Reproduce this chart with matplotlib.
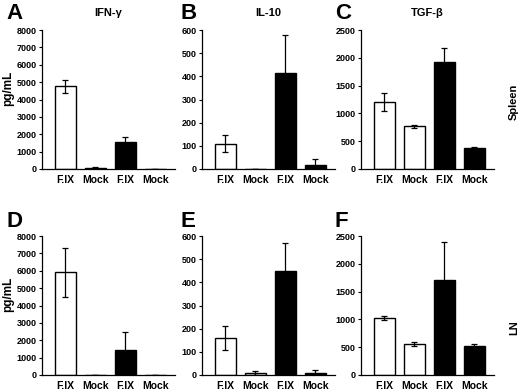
import matplotlib
matplotlib.use('Agg')
import matplotlib.pyplot as plt

plt.rcParams['font.family'] = ['Liberation Sans', 'DejaVu Sans']
plt.rcParams['font.weight'] = 'bold'

# groups along x, same for all panels
groups = ['F.IX', 'Mock', 'F.IX', 'Mock']
fills = ['white', 'white', 'black', 'black']

# panel data (pg/mL): mean, error
panels = ['A', 'B', 'C', 'D', 'E', 'F']
titles = ['IFN-\u03b3', 'IL-10', 'TGF-\u03b2', '', '', '']
ymax = [8000, 600, 2500, 8000, 600, 2500]
ystep = [1000, 100, 500, 1000, 100, 500]

A_val = [4750, 80, 1580, 10]
A_err = [380, 30, 250, 5]
B_val = [110, 0, 415, 18]
B_err = [38, 0, 165, 27]
C_val = [1200, 770, 1930, 370]
C_err = [165, 30, 250, 30]
D_val = [5900, 0, 1450, 10]
D_err = [1400, 0, 1050, 5]
E_val = [160, 8, 450, 10]
E_err = [52, 8, 120, 10]
F_val = [1030, 560, 1700, 530]
F_err = [40, 40, 690, 30]

vals = [A_val, B_val, C_val, D_val, E_val, F_val]
errs = [A_err, B_err, C_err, D_err, E_err, F_err]

fig = plt.figure(figsize=(5.2, 3.9), dpi=100)

lefts = [42, 202, 361]
tops = [30, 236]
letter_x = [6, 180, 335]
letter_y = [3, 211]
W, H = 520., 390.

for k in range(6):
    r, c = k // 3, k % 3
    x0 = lefts[c]
    y0 = tops[r]
    ax = fig.add_axes([x0 / W, 1 - (y0 + 139) / H, 133 / W, 139 / H])
    xs = range(len(groups))
    v = vals[k]
    e = errs[k]
    lo = [min(e[i], v[i]) for i in xs]
    ax.bar(xs, v, width=0.68, color=fills, edgecolor='black', linewidth=1.0)
    ax.errorbar(xs, v, yerr=[lo, e], fmt='none', ecolor='black',
                elinewidth=0.9, capsize=2, capthick=0.9)
    ax.set_xlim(-0.78, 3.65)
    ax.set_ylim(0, ymax[k])
    ax.set_yticks(range(0, ymax[k] + 1, ystep[k]))
    ax.set_xticks(list(xs))
    ax.set_xticklabels(groups, fontsize=7.5, fontweight='bold')
    ax.tick_params(axis='x', length=0, pad=4)
    ax.tick_params(axis='y', length=2.5, width=0.8, labelsize=6.5, pad=1.5)
    for lab in ax.get_yticklabels():
        lab.set_fontweight('bold')
    ax.spines['top'].set_visible(False)
    ax.spines['right'].set_visible(False)
    ax.spines['left'].set_linewidth(0.9)
    ax.spines['bottom'].set_linewidth(0.9)
    if titles[k]:
        ax.set_title(titles[k], fontsize=8, fontweight='bold', pad=10)
    # panel letter
    fig.text(letter_x[c] / W, 1 - letter_y[r] / H, panels[k], fontsize=16,
             fontweight='heavy', ha='left', va='top')
    if c == 0:
        ax.set_ylabel('pg/mL', fontsize=8.5, fontweight='bold')
        ax.yaxis.set_label_coords(-0.21, 0.58)

fig.text(514 / W, 1 - 102 / H, 'Spleen', rotation=90, fontsize=8,
         fontweight='bold', ha='center', va='center')
fig.text(514 / W, 1 - 328 / H, 'LN', rotation=90, fontsize=8,
         fontweight='bold', ha='center', va='center')

fig.savefig('out.png', dpi=100)
